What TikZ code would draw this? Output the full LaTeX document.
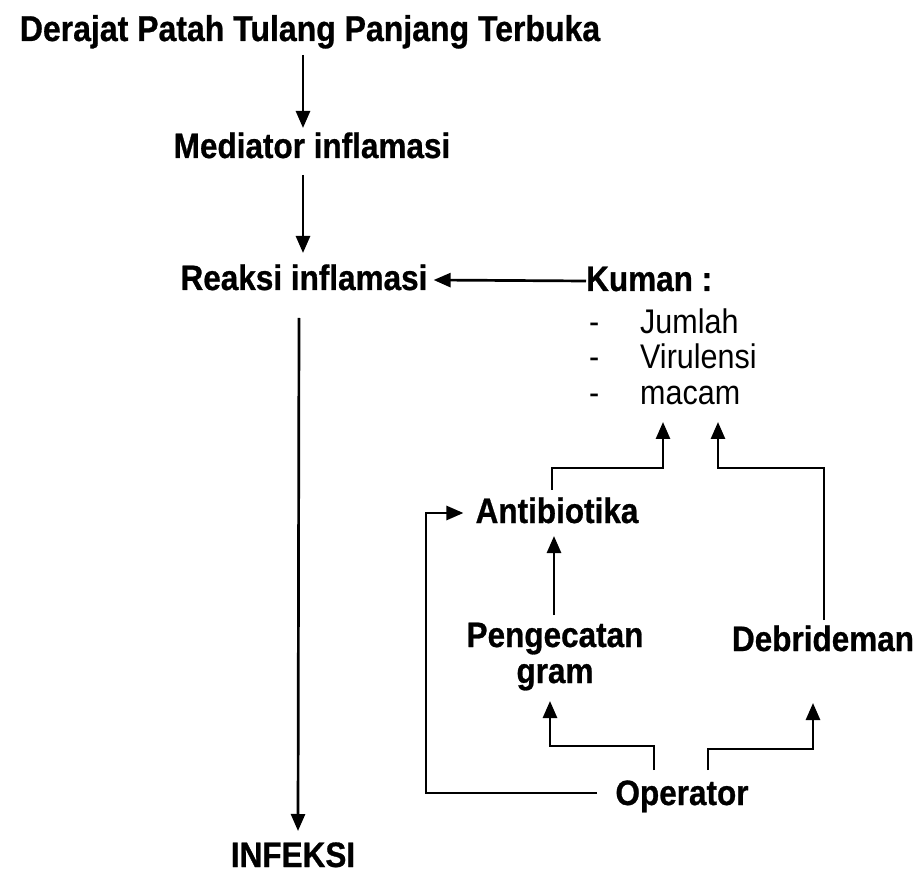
\documentclass[tikz,border=0pt]{standalone}
\usepackage{fontspec}
\setmainfont[BoldFeatures={FakeBold=0.8}]{Liberation Sans}
\usetikzlibrary{arrows.meta,calc}
\newcommand\tx[1]{\scalebox{1}[1.12]{#1}}
\begin{document}
\begin{tikzpicture}[x=1pt,y=-1pt,
  lbl/.style={font=\fontsize{31.5}{36}\selectfont\bfseries, inner sep=0pt, anchor=base},
  itm/.style={font=\fontsize{30.5}{36}\selectfont, inner sep=0pt, anchor=base west},
  conn/.style={line width=2.7pt},
  arr/.style={conn, -{Triangle[width=14pt,length=17pt]}}]
\useasboundingbox (0,0) rectangle (922,877);
% nodes
\node[lbl, font=\fontsize{32}{36}\selectfont\bfseries] (title) at (310,41) {\tx{Derajat Patah Tulang Panjang Terbuka}};
\node[lbl] (med) at (312,158) {\tx{Mediator inflamasi}};
\node[lbl] (reak) at (304,290) {\tx{Reaksi inflamasi}};
\node[lbl, anchor=base west] (kuman) at (586,291) {\tx{Kuman :}};
\node[itm] (d1) at (589,334) {\tx{-}};
\node[itm] (jum) at (640,334) {\tx{Jumlah}};
\node[itm] (d2) at (589,369) {\tx{-}};
\node[itm] (vir) at (640,369) {\tx{Virulensi}};
\node[itm] (d3) at (589,405) {\tx{-}};
\node[itm] (mac) at (640,405) {\tx{macam}};
\node[lbl] (anti) at (557,523) {\tx{Antibiotika}};
\node[lbl, anchor=base, align=center] (peng) at (555,683) {\tx{Pengecatan}\\\tx{gram}};
\node[lbl] (deb) at (823,651) {\tx{Debrideman}};
\node[lbl] (op) at (682,805) {\tx{Operator}};
\node[lbl] (inf) at (293,867) {\tx{INFEKSI}};
% helper coordinates
\coordinate (cA) at (303,0);
\coordinate (hl) at (0,468);
\coordinate (tipL) at (663,422);
\coordinate (tipR) at (718,422);
\coordinate (opL) at (654,770);
\coordinate (opR) at (708,770);
\coordinate (brk) at (597,793);
% connectors
\draw[arr] ($(title.base -| cA)+(0,14)$) -- ($(med.base -| cA)+(0,-30)$);
\draw[arr] ($(med.base -| cA)+(0,17)$) -- ($(reak.base -| cA)+(0,-37)$);
\draw[arr] ($(reak.base)+(-5,28)$) -- ($(inf.base)+(5,-36)$);
\draw[arr] ($(kuman.base west)+(0,-10)$) -- ($(reak.base east)+(6,-10)$);
\draw[arr] ($(anti.base)+(-5,-33)$) coordinate (a1) -- (a1 |- hl) -- (tipL |- hl) -- (tipL);
\draw[arr] ($(deb.base)+(1,-31)$) coordinate (b1) -- (b1 |- hl) -- (tipR |- hl) -- (tipR);
\draw[arr] ($(peng.base)+(-1,-68)$) -- ($(anti.base)+(-3,13)$);
\draw[arr] (opL) -- ++(0,-24) -| ($(peng.base)+(-5,18)$);
\draw[arr] (opR) -- ++(0,-21) -| ($(deb.base)+(-10,52)$);
\draw[arr] (brk) -- ++(-171,0) |- ($(anti.base west)+(-12,-10)$);
\end{tikzpicture}
\end{document}
